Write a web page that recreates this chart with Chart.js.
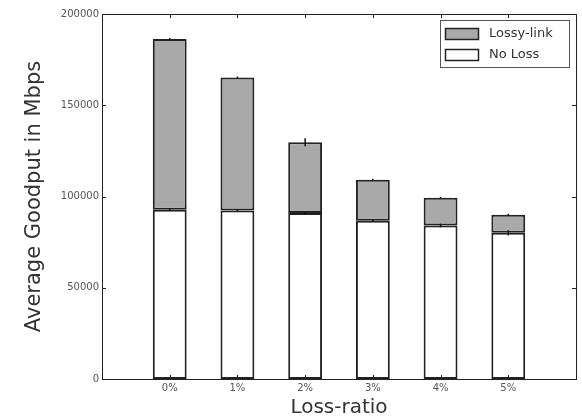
<!DOCTYPE html>
<html>
<head>
<meta charset="utf-8">
<script src="https://cdn.jsdelivr.net/npm/chart.js@4/dist/chart.umd.min.js"></script>
<style>
  body { margin: 0; background: #fff; }
  #wrap { width: 582px; height: 420px; }
</style>
</head>
<body>
<div id="wrap"><canvas id="chart" width="582" height="420"></canvas></div>
<script>
// Values (Mbps)
const categories = ['0%', '1%', '2%', '3%', '4%', '5%'];
const noLoss = [92700, 92300, 90900, 86700, 84100, 80100];
const lossyLink = [93600, 72900, 38800, 22500, 15200, 9900];
const noLossErr = [700, 600, 700, 700, 1000, 1400];
const lossyErr = [500, 500, 2200, 500, 500, 500];
const yTicks = [0, 50000, 100000, 150000, 200000];

const fontName = '"DejaVu Sans", sans-serif';

function points(values) {
  return values.map((v, i) => ({ x: i, y: v }));
}

// frame, inward ticks, error bars and the boxed legend, matplotlib style
const extras = {
  id: 'extras',
  afterDatasetsDraw(chart) {
    const ctx = chart.ctx;
    const area = chart.chartArea;
    const xs = chart.scales.x;
    const ys = chart.scales.y;
    ctx.save();

    // error bars
    ctx.strokeStyle = '#111';
    ctx.lineWidth = 1.5;
    const errs = [noLossErr, lossyErr];
    chart.data.datasets.forEach((ds, di) => {
      chart.getDatasetMeta(di).data.forEach((bar, i) => {
        const top = ys.getValueForPixel(bar.y);
        const e = errs[di][i];
        ctx.beginPath();
        ctx.moveTo(bar.x, ys.getPixelForValue(top + e));
        ctx.lineTo(bar.x, ys.getPixelForValue(top - e));
        ctx.stroke();
      });
    });

    // frame
    ctx.strokeStyle = '#222';
    ctx.lineWidth = 1;
    ctx.strokeRect(Math.round(area.left) + 0.5, Math.round(area.top) + 0.5,
      Math.round(area.right - area.left), Math.round(area.bottom - area.top));

    // inward ticks
    ctx.beginPath();
    yTicks.forEach(v => {
      const y = Math.round(ys.getPixelForValue(v)) + 0.5;
      ctx.moveTo(area.left, y); ctx.lineTo(area.left + 4, y);
      ctx.moveTo(area.right, y); ctx.lineTo(area.right - 4, y);
    });
    categories.forEach((c, i) => {
      const x = Math.round(xs.getPixelForValue(i)) + 0.5;
      ctx.moveTo(x, area.bottom); ctx.lineTo(x, area.bottom - 4);
      ctx.moveTo(x, area.top); ctx.lineTo(x, area.top + 4);
    });
    ctx.stroke();

    // legend
    const lx = 440, ly = 20, lw = 129, lh = 47;
    ctx.fillStyle = '#fff';
    ctx.fillRect(lx, ly, lw, lh);
    ctx.strokeStyle = '#555';
    ctx.strokeRect(lx + 0.5, ly + 0.5, lw, lh);
    const order = [1, 0];
    ctx.font = '13px ' + fontName;
    ctx.textBaseline = 'middle';
    order.forEach((di, k) => {
      const ds = chart.data.datasets[di];
      const sy = ly + 8 + k * 21;
      ctx.fillStyle = ds.backgroundColor;
      ctx.fillRect(lx + 5, sy, 33, 11);
      ctx.strokeStyle = '#222';
      ctx.lineWidth = 1.5;
      ctx.strokeRect(lx + 5.5, sy + 0.5, 33, 11);
      ctx.fillStyle = '#333';
      ctx.fillText(ds.label, lx + 49, sy + 6);
    });

    ctx.restore();
  }
};

new Chart(document.getElementById('chart'), {
  type: 'bar',
  data: {
    datasets: [
      {
        label: 'No Loss',
        data: points(noLoss),
        backgroundColor: '#ffffff',
        borderColor: '#222',
        borderWidth: 2,
        borderSkipped: false
      },
      {
        label: 'Lossy-link',
        data: points(lossyLink),
        backgroundColor: '#a9a9a9',
        borderColor: '#222',
        borderWidth: 2,
        borderSkipped: false
      }
    ]
  },
  options: {
    responsive: false,
    animation: false,
    categoryPercentage: 1,
    barPercentage: 0.5,
    layout: { padding: { top: 14, right: 6, left: 0, bottom: 0 } },
    plugins: {
      legend: { display: false },
      tooltip: { enabled: false }
    },
    scales: {
      x: {
        type: 'linear',
        stacked: true,
        offset: false,
        min: -1,
        max: 6,
        afterFit(scale) { scale.height = 41; },
        grid: { display: false, drawTicks: false, offset: false },
        border: { display: false },
        ticks: {
          stepSize: 1,
          autoSkip: false,
          maxRotation: 0,
          padding: 3,
          color: '#555',
          font: { family: fontName, size: 10 },
          callback: v => categories[v] || ''
        },
        title: {
          display: true,
          text: 'Loss-ratio',
          color: '#333',
          font: { family: fontName, size: 20 },
          padding: { top: 0, bottom: 0 }
        }
      },
      y: {
        stacked: true,
        min: 0,
        max: 200000,
        afterFit(scale) { scale.width = 102; },
        afterBuildTicks(scale) { scale.ticks = yTicks.map(v => ({ value: v })); },
        grid: { display: false, drawTicks: false },
        border: { display: false },
        ticks: {
          padding: 3,
          color: '#555',
          font: { family: fontName, size: 10 },
          callback: v => String(v)
        },
        title: {
          display: true,
          text: 'Average Goodput in Mbps',
          color: '#333',
          font: { family: fontName, size: 21 },
          padding: { top: 22, bottom: 0 }
        }
      }
    }
  },
  plugins: [extras]
});
</script>
</body>
</html>
